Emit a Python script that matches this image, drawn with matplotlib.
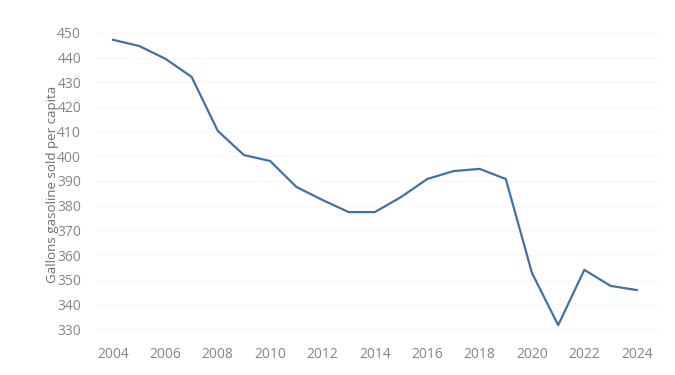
import numpy as np
from matplotlib import pyplot as plt

# gasoline sold per capita
years = list(range(2004, 2025))
gallons = [447.2, 444.7, 439.5, 432.2, 410.3, 400.5, 398.1, 387.6, 382.3, 377.4, 377.4,
           383.5, 390.8, 394.0, 394.9, 390.8, 352.7, 331.6, 354.0, 347.5, 345.8]
xticks = list(range(2004, 2025, 2))
yticks = list(range(330, 451, 10))

plt.rcParams['font.family'] = ['Open Sans', 'DejaVu Sans']
grey = '#858585'

fig = plt.figure(figsize=(6.75, 3.75), dpi=100)
ax = fig.add_axes([0.1407, 0.083, 0.841, 0.849])

ax.plot(years, gallons, color='#4570a3', linewidth=1.6)

ax.set_xlim(2003.31, 2024.99)
ax.set_ylim(324, 453)
ax.set_xticks(xticks)
ax.set_yticks(yticks)
ax.tick_params(axis='both', length=0, labelcolor=grey, labelsize=10)
ax.tick_params(axis='y', pad=10)
ax.tick_params(axis='x', pad=2)
ax.grid(axis='y', color='#f9f9f9', linewidth=0.8)
ax.set_axisbelow(True)
for s in ax.spines.values():
    s.set_visible(False)

ax.set_ylabel('Gallons gasoline sold per capita', color='#6e6e6e', fontsize=9.6, labelpad=-1)

fig.savefig('out.png', dpi=100)
